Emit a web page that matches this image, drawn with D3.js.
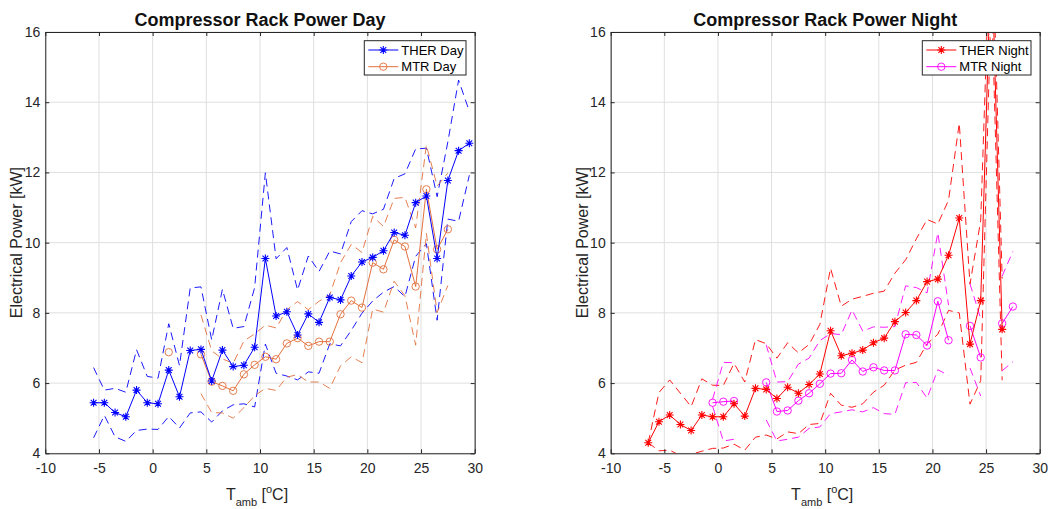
<!DOCTYPE html>
<html>
<head>
<meta charset="utf-8">
<script src="https://d3js.org/d3.v7.min.js"></script>
<style>
  body { margin: 0; background: #fff; }
  text { font-family: "Liberation Sans", Arial, Helvetica, sans-serif; }
</style>
</head>
<body>
<div id="chart"></div>
<script>
// Tick values
var xTicks = [-10, -5, 0, 5, 10, 15, 20, 25, 30];
var yTicks = [4, 6, 8, 10, 12, 14, 16];

// Day panel: ambient temperature bins, mean power and standard deviation
var tempTherDay = [-5.5, -4.5, -3.5, -2.5, -1.5, -0.5, 0.5, 1.5, 2.5, 3.5, 4.5, 5.5, 6.5, 7.5, 8.5, 9.5,
  10.5, 11.5, 12.5, 13.5, 14.5, 15.5, 16.5, 17.5, 18.5, 19.5, 20.5, 21.5, 22.5, 23.5, 24.5, 25.5,
  26.5, 27.5, 28.5, 29.5];
var therDay = [5.44, 5.44, 5.16, 5.04, 5.80, 5.44, 5.41, 6.37, 5.61, 6.93, 6.96, 6.06, 6.94, 6.47, 6.51, 7.02,
  9.55, 7.91, 8.03, 7.37, 7.97, 7.73, 8.44, 8.37, 9.05, 9.45, 9.58, 9.77, 10.29, 10.21, 11.14, 11.33,
  9.55, 11.77, 12.62, 12.83];
var therDaySd = [1.00, 0.36, 0.69, 0.70, 1.15, 0.75, 0.73, 1.32, 0.89, 1.78, 1.78, 1.17, 1.73, 1.09, 1.10, 1.70,
  2.44, 1.63, 1.83, 1.28, 1.65, 1.45, 1.32, 1.31, 1.55, 1.46, 1.24, 1.18, 1.54, 1.75, 1.53, 1.36,
  1.76, 1.10, 2.01, 0.91];

var tempMtrDay = [1.5, 2.5, 3.5, 4.5, 5.5, 6.5, 7.5, 8.5, 9.5, 10.5, 11.5, 12.5, 13.5, 14.5, 15.5, 16.5,
  17.5, 18.5, 19.5, 20.5, 21.5, 22.5, 23.5, 24.5, 25.5, 26.5, 27.5];
var mtrDay = [6.88, null, null, 6.82, 6.04, 5.92, 5.78, 6.25, 6.52, 6.75, 6.68, 7.13, 7.28, 7.06, 7.18, 7.18,
  7.96, 8.35, 8.15, 9.43, 9.24, 10.08, 9.89, 8.75, 11.52, 9.81, 10.38];
var mtrDaySd = [0, null, null, 1.12, 0.88, 0.77, 0.78, 0.95, 0.88, 0.90, 0.89, 0.96, 1.04, 1.03, 1.15, 1.33,
  1.47, 1.60, 1.57, 1.32, 1.22, 1.18, 1.40, 1.67, 1.26, 1.80, 1.60];

// Night panel
var tempTherNight = [-6.5, -5.5, -4.5, -3.5, -2.5, -1.5, -0.5, 0.5, 1.5, 2.5, 3.5, 4.5, 5.5, 6.5, 7.5, 8.5,
  9.5, 10.5, 11.5, 12.5, 13.5, 14.5, 15.5, 16.5, 17.5, 18.5, 19.5, 20.5, 21.5, 22.5, 23.5, 24.5,
  25.5, 26.5];
var therNight = [4.30, 4.90, 5.09, 4.82, 4.65, 5.09, 5.04, 5.04, 5.41, 5.06, 5.85, 5.82, 5.56, 5.88, 5.71, 5.96,
  6.26, 7.49, 6.78, 6.85, 6.94, 7.15, 7.28, 7.75, 8.01, 8.35, 8.89, 8.96, 9.64, 10.70, 7.11, 8.35,
  18.5, 7.53];
var therNightSd = [0, 0.83, 1.00, 0.89, 0.68, 1.03, 0.90, 0.89, 1.15, 0.97, 1.39, 1.30, 1.15, 1.27, 1.15, 1.14,
  1.41, 1.78, 1.41, 1.54, 1.53, 1.41, 1.34, 1.38, 1.50, 1.76, 1.77, 1.57, 1.57, 2.70, 1.71, 2.28,
  1.30, 1.45];

var tempMtrNight = [-0.5, 0.5, 1.5, 2.5, 3.5, 4.5, 5.5, 6.5, 7.5, 8.5, 9.5, 10.5, 11.5, 12.5, 13.5, 14.5,
  15.5, 16.5, 17.5, 18.5, 19.5, 20.5, 21.5, 22.5, 23.5, 24.5, 25.5, 26.5, 27.5];
var mtrNight = [5.44, 5.47, 5.49, null, null, 6.02, 5.19, 5.22, 5.50, 5.71, 5.98, 6.27, 6.28, 6.66, 6.33, 6.45,
  6.36, 6.36, 7.39, 7.37, 7.07, 8.33, 7.22, null, 7.63, 6.73, null, 7.70, 8.18];
var mtrNightSd = [0.10, 1.12, 1.09, null, null, 1.07, 0.84, 0.82, 1.04, 1.00, 1.23, 1.14, 1.10, 1.42, 1.15, 1.15,
  1.23, 1.25, 1.38, 1.35, 1.50, 1.95, 1.00, null, 1.20, 1.10, null, 1.35, 1.57];

// Set up parameters
var svgWidth = 1048;
var svgHeight = 509;
var plotTop = 32;
var plotBottom = 453.3;
var axisColor = "#262626";

var svg = d3.select("#chart")
  .append("svg")
  .attr("width", svgWidth)
  .attr("height", svgHeight)
  .style("display", "block");

// MATLAB style asterisk marker
var starPath = "M-4,0H4M0,-4V4M-2.9,-2.9L2.9,2.9M-2.9,2.9L2.9,-2.9";

function makeSeries(temps, means, sds, name, color, marker) {
  var pts = temps.map(function(t, i) {
    return { t: t, v: means[i], sd: sds[i] };
  });
  return { name: name, color: color, marker: marker, pts: pts };
}

function drawMarker(sel, s) {
  if (s.marker === "star") {
    sel.append("path")
      .attr("d", starPath)
      .attr("fill", "none")
      .attr("stroke", s.color)
      .attr("stroke-width", 1.1);
  } else {
    sel.append("circle")
      .attr("r", 3.7)
      .attr("fill", "none")
      .attr("stroke", s.color)
      .attr("stroke-width", 0.9);
  }
}

function drawPanel(p) {
  var g = svg.append("g");

  var x = d3.scaleLinear().domain([-10, 30]).range([p.left, p.right]);
  var y = d3.scaleLinear().domain([4, 16]).range([plotBottom, plotTop]);

  // grid lines
  g.selectAll(".gx").data(xTicks).enter().append("line")
    .attr("x1", d => x(d)).attr("x2", d => x(d))
    .attr("y1", plotTop).attr("y2", plotBottom)
    .attr("stroke", "#dfdfdf").attr("stroke-width", 1);
  g.selectAll(".gy").data(yTicks).enter().append("line")
    .attr("x1", p.left).attr("x2", p.right)
    .attr("y1", d => y(d)).attr("y2", d => y(d))
    .attr("stroke", "#dfdfdf").attr("stroke-width", 1);

  // clip to the axes box
  svg.append("clipPath").attr("id", p.id + "clip")
    .append("rect")
    .attr("x", p.left).attr("y", plotTop)
    .attr("width", p.right - p.left).attr("height", plotBottom - plotTop);

  var plot = g.append("g").attr("clip-path", "url(#" + p.id + "clip)");

  var defined = d => d.v != null;

  // dashed mean +/- std lines
  p.series.forEach(function(s) {
    [1, -1].forEach(function(sign) {
      var band = d3.line()
        .defined(defined)
        .x(d => x(d.t))
        .y(d => y(d.v + sign * d.sd));
      plot.append("path")
        .datum(s.pts)
        .attr("d", band)
        .attr("fill", "none")
        .attr("stroke", s.color)
        .attr("stroke-width", 0.9)
        .attr("stroke-dasharray", "8,5");
    });
  });

  // mean lines with markers (MTR first, THER on top)
  p.series.slice().reverse().forEach(function(s) {
    var line = d3.line()
      .defined(defined)
      .x(d => x(d.t))
      .y(d => y(d.v));
    plot.append("path")
      .datum(s.pts)
      .attr("d", line)
      .attr("fill", "none")
      .attr("stroke", s.color)
      .attr("stroke-width", 1);

    var marks = plot.selectAll(null)
      .data(s.pts.filter(defined))
      .enter()
      .append("g")
      .attr("transform", d => `translate(${x(d.t)}, ${y(d.v)})`);
    drawMarker(marks, s);
  });

  // axes (box on, ticks inward), plain hyphen for negatives
  var fmt = d => String(d);
  var bottomAxis = d3.axisBottom(x).tickValues(xTicks).tickFormat(fmt).tickSizeInner(-4).tickSizeOuter(0).tickPadding(10);
  var topAxis = d3.axisTop(x).tickValues(xTicks).tickSizeInner(-4).tickSizeOuter(0).tickFormat("");
  var leftAxis = d3.axisLeft(y).tickValues(yTicks).tickFormat(fmt).tickSizeInner(-4).tickSizeOuter(0).tickPadding(5);
  var rightAxis = d3.axisRight(y).tickValues(yTicks).tickSizeInner(-4).tickSizeOuter(0).tickFormat("");

  var axes = [
    g.append("g").attr("transform", `translate(0, ${plotBottom})`).call(bottomAxis),
    g.append("g").attr("transform", `translate(0, ${plotTop})`).call(topAxis),
    g.append("g").attr("transform", `translate(${p.left}, 0)`).call(leftAxis),
    g.append("g").attr("transform", `translate(${p.right}, 0)`).call(rightAxis)
  ];
  axes.forEach(function(a) {
    a.selectAll("path, line").attr("stroke", axisColor).attr("stroke-width", 1);
    a.selectAll("text")
      .attr("fill", axisColor)
      .style("font-size", "14px")
      .style("font-family", "'Liberation Sans', Arial, sans-serif");
  });

  var cx = (p.left + p.right) / 2;

  // title
  g.append("text")
    .attr("x", cx)
    .attr("y", 25.5)
    .attr("text-anchor", "middle")
    .style("font-size", "18px")
    .style("font-weight", "bold")
    .attr("fill", "#111")
    .text(p.title);

  // axis labels
  g.append("text")
    .attr("transform", `translate(${p.left - 23}, ${(plotTop + plotBottom) / 2}) rotate(-90)`)
    .attr("text-anchor", "middle")
    .style("font-size", "16px")
    .attr("fill", axisColor)
    .text("Electrical Power [kW]");

  var xl = g.append("text")
    .attr("x", cx - 3)
    .attr("y", 500)
    .attr("text-anchor", "middle")
    .style("font-size", "16px")
    .attr("fill", axisColor);
  xl.append("tspan").text("T");
  xl.append("tspan").attr("dy", 6).style("font-size", "11px").text("amb");
  xl.append("tspan").attr("dy", -6).text(" [");
  xl.append("tspan").attr("dy", -7).style("font-size", "11px").text("o");
  xl.append("tspan").attr("dy", 7).text("C]");

  // legend
  var lw = p.legendWidth;
  var lx = p.right - 8.7 - lw;
  var ly = plotTop + 8.7;
  var leg = g.append("g").attr("transform", `translate(${lx}, ${ly})`);
  leg.append("rect")
    .attr("width", lw).attr("height", 34.3)
    .attr("fill", "#fff")
    .attr("stroke", axisColor).attr("stroke-width", 1);
  p.series.forEach(function(s, i) {
    var row = leg.append("g").attr("transform", `translate(0, ${9.3 + i * 16.7})`);
    row.append("line")
      .attr("x1", 4).attr("x2", 34)
      .attr("stroke", s.color).attr("stroke-width", 1);
    var m = row.append("g").attr("transform", "translate(19, 0)");
    drawMarker(m, s);
    row.append("text")
      .attr("x", 37)
      .attr("dy", "0.35em")
      .style("font-size", "13px")
      .attr("fill", "#000")
      .text(s.name);
  });
}

drawPanel({
  id: "day",
  left: 45.3,
  right: 474.7,
  title: "Compressor Rack Power Day",
  legendWidth: 101.7,
  series: [
    makeSeries(tempTherDay, therDay, therDaySd, "THER Day", "#0000ff", "star"),
    makeSeries(tempMtrDay, mtrDay, mtrDaySd, "MTR Day", "#e2703d", "circle")
  ]
});

drawPanel({
  id: "night",
  left: 610.7,
  right: 1039.7,
  title: "Compressor Rack Power Night",
  legendWidth: 108.7,
  series: [
    makeSeries(tempTherNight, therNight, therNightSd, "THER Night", "#ff0000", "star"),
    makeSeries(tempMtrNight, mtrNight, mtrNightSd, "MTR Night", "#ff00ff", "circle")
  ]
});
</script>
</body>
</html>
